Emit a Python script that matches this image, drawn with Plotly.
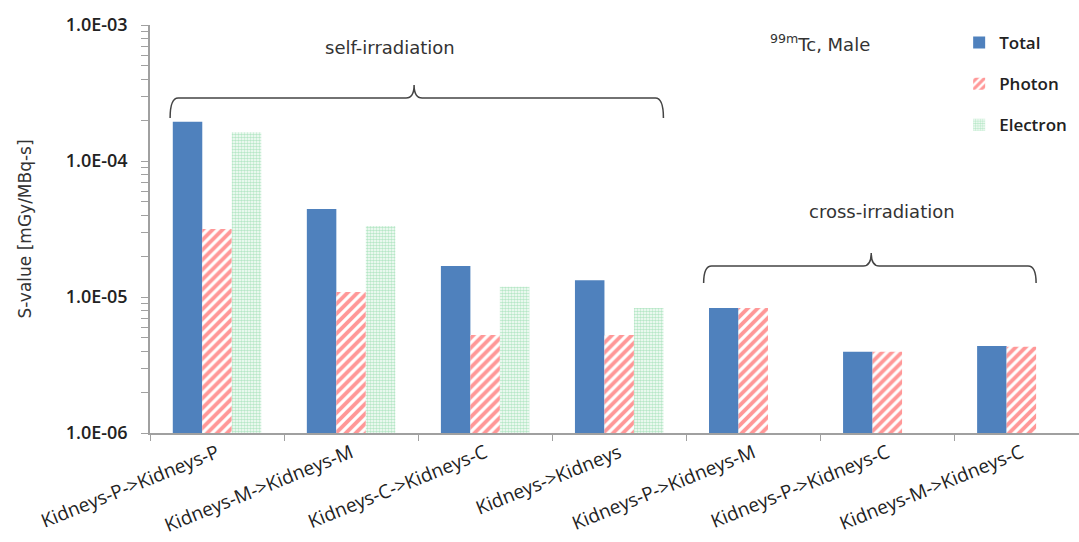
import plotly.graph_objects as go

categories = ["Kidneys-P->Kidneys-P", "Kidneys-M->Kidneys-M", "Kidneys-C->Kidneys-C",
              "Kidneys->Kidneys", "Kidneys-P->Kidneys-M", "Kidneys-P->Kidneys-C",
              "Kidneys-M->Kidneys-C"]
total = [1.94e-4, 4.44e-5, 1.69e-5, 1.33e-5, 8.3e-6, 3.95e-6, 4.37e-6]
photon = [3.16e-5, 1.09e-5, 5.26e-6, 5.26e-6, 8.3e-6, 3.95e-6, 4.3e-6]
electron = [1.63e-4, 3.33e-5, 1.19e-5, 8.3e-6, None, None, None]
decades = [1e-6, 1e-5, 1e-4, 1e-3]
decade_labels = ["1.0E-06", "1.0E-05", "1.0E-04", "1.0E-03"]

ytick_vals = []
ytick_text = []
for i, d in enumerate(decades):
    ytick_vals.append(d)
    ytick_text.append(decade_labels[i])
    if i < len(decades) - 1:
        for k in range(2, 10):
            ytick_vals.append(d * k)
            ytick_text.append("")

fig = go.Figure()
fig.add_trace(go.Bar(name="Total", x=categories, y=total,
                     marker=dict(color="#4F81BD", line=dict(width=0)),
                     legendgroup="a"))
fig.add_trace(go.Bar(name="Photon", x=categories, y=photon,
                     marker=dict(color="white", line=dict(width=0),
                                 pattern=dict(shape="/", fgcolor="#FF3030", bgcolor="white",
                                              size=7, solidity=0.55)),
                     legendgroup="b"))
fig.add_trace(go.Bar(name="Electron", x=categories, y=electron,
                     marker=dict(color="white", line=dict(width=0),
                                 pattern=dict(shape=".", fgcolor="#6FCF8F", bgcolor="white",
                                              size=3, solidity=0.6)),
                     legendgroup="c"))

txtfont = dict(family="DejaVu Sans", size=18, color="#333333")

def brace(x0, x1, xc, yb, yh, yt):
    d = 0.06
    return (f"M {x0},{yb} Q {x0},{yh} {x0+d},{yh} L {xc-d},{yh} "
            f"Q {xc},{yh} {xc},{yt} Q {xc},{yh} {xc+d},{yh} L {x1-d},{yh} "
            f"Q {x1},{yh} {x1},{yb}")

def py(p):
    return (433 - p) / 408.0

shapes = [
    dict(type="path", xref="x", yref="paper",
         path=brace(-0.35, 3.33, 1.47, py(118), py(98), py(85)),
         line=dict(color="#444444", width=1.5)),
    dict(type="path", xref="x", yref="paper",
         path=brace(3.63, 6.11, 4.88, py(283), py(266), py(253)),
         line=dict(color="#444444", width=1.5)),
]

annotations = [
    dict(text="self-irradiation", x=1.29, y=py(47), xref="x", yref="paper",
         yanchor="middle", showarrow=False, font=txtfont),
    dict(text="cross-irradiation", x=4.96, y=py(211), xref="x", yref="paper",
         yanchor="middle", showarrow=False, font=txtfont),
    dict(text="<sup>99m</sup>Tc, Male", x=4.5, y=py(43), xref="x", yref="paper",
         yanchor="middle", showarrow=False,
         font=dict(family="DejaVu Sans", size=18, color="#333333")),
]

fig.update_layout(
    width=1079, height=542,
    margin=dict(l=150, r=0, t=25, b=109),
    paper_bgcolor="white", plot_bgcolor="white",
    barmode="group", bargap=0.34, bargroupgap=0,
    showlegend=True,
    legend=dict(x=0.871, y=1.0, xanchor="left", yanchor="top",
                font=dict(family="Open Sans, DejaVu Sans", size=17, color="#222222",
                          weight=600),
                bgcolor="rgba(0,0,0,0)", tracegroupgap=16),
    shapes=shapes, annotations=annotations,
    xaxis=dict(type="category", range=[-0.5, 6.43], showline=True, linecolor="#A0A0A0",
               linewidth=1.5, ticks="outside", tickson="boundaries", ticklen=6,
               tickcolor="#A0A0A0", tickangle=-22, showgrid=False, automargin=False,
               tickfont=dict(family="Open Sans, DejaVu Sans", size=19, color="#222222",
                             weight=500)),
    yaxis=dict(type="log", range=[-6, -3], tickmode="array", tickvals=ytick_vals,
               ticktext=ytick_text,
               showline=True, linecolor="#A0A0A0", linewidth=1.5, ticks="outside",
               ticklen=7, tickcolor="#A0A0A0", showgrid=False, zeroline=False,
               automargin=False, ticklabelstandoff=10,
               tickfont=dict(family="Open Sans, DejaVu Sans", size=18, color="#222222",
                             weight=600),
               title=dict(text="S-value [mGy/MBq-s]", standoff=30,
                          font=dict(family="DejaVu Sans", size=17, color="#333333"))),
)

fig.write_html("out.html", config={"displayModeBar": False},
               post_script="document.body.style.margin='0';")
